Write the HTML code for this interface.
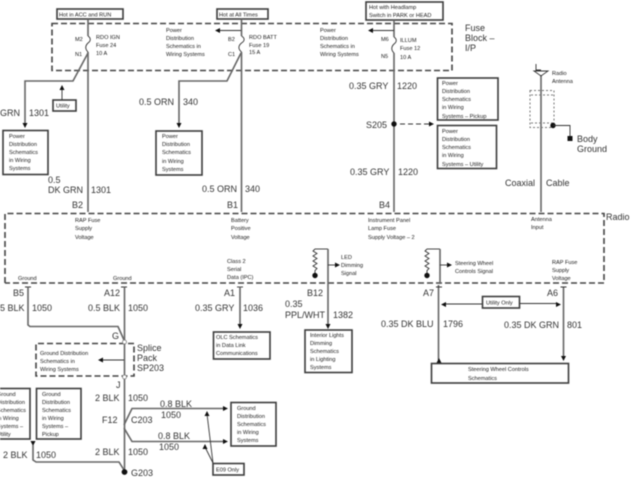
<!DOCTYPE html>
<html>
<head>
<meta charset="utf-8">
<style>
html,body{margin:0;padding:0;background:#fff;}
svg{display:block;filter:blur(0.55px);}
text{font-family:"Liberation Sans",sans-serif;fill:#333;}
.s{font-size:5.6px;fill:#1c1c1c;}
.l{font-size:9px;fill:#333;}
.w{fill:none;stroke:#666;stroke-width:1.6;}
.t{fill:none;stroke:#333;stroke-width:0.9;}
.b{fill:#fff;stroke:#3c3c3c;stroke-width:1.6;}
.d{fill:none;stroke:#444;stroke-width:1.6;stroke-dasharray:6 3;}
.f{fill:none;stroke:#777;stroke-width:1;stroke-dasharray:2 2;}
.k{fill:#111;}
</style>
</head>
<body>
<svg width="640" height="480" viewBox="0 0 640 480" xmlns="http://www.w3.org/2000/svg">
<rect width="640" height="480" fill="#fff"/>

<!-- dashed blocks -->
<rect class="d" x="52" y="23.5" width="400" height="47"/>
<path class="d" d="M5 283V213.5H604V283H5"/>

<!-- top hot boxes -->
<rect class="b" x="57" y="9" width="66" height="10"/>
<text class="s" x="59" y="16.5">Hot in ACC and RUN</text>
<rect class="b" x="217" y="9" width="51" height="10"/>
<text class="s" x="219" y="16.5">Hot at All Times</text>
<rect class="b" x="366" y="2" width="77" height="18"/>
<text class="s" x="369" y="9">Hot with Headlamp</text>
<text class="s" x="369" y="17">Switch in PARK or HEAD</text>

<!-- main wires -->
<path class="w" d="M88 19V36M88 52V212"/>
<path class="t" d="M88 36C91 38 91 41 88 43C85 46 85 49 88 52"/>
<path class="w" d="M241.5 19V36M241.5 52V212"/>
<path class="t" d="M241.5 36C245 38 245 41 241.5 43C238 46 238 49 241.5 52"/>
<path class="w" d="M394 20V37M394 53V212"/>
<path class="t" d="M394 37C397 39 397 42 394 44C391 47 391 50 394 53"/>
<path class="w" d="M541 75V212"/>

<!-- fuse labels -->
<text class="s" x="75" y="41">M2</text><text class="s" x="75" y="56">N1</text>
<text class="s" x="96" y="39">RDO IGN</text><text class="s" x="96" y="47">Fuse 24</text><text class="s" x="96" y="55">10 A</text>
<text class="s" x="228" y="41">B2</text><text class="s" x="228" y="56">C1</text>
<text class="s" x="249" y="39">RDO BATT</text><text class="s" x="249" y="47">Fuse 19</text><text class="s" x="249" y="54">15 A</text>
<text class="s" x="381" y="41">M6</text><text class="s" x="381" y="58">N5</text>
<text class="s" x="400" y="42">ILLUM</text><text class="s" x="400" y="50">Fuse 12</text><text class="s" x="400" y="59">10 A</text>

<text class="s" x="166" y="32">Power</text><text class="s" x="166" y="40">Distribution</text><text class="s" x="166" y="48">Schematics in</text><text class="s" x="166" y="56">Wiring Systems</text>
<path class="t" d="M241 30.5H218"/><path class="k" d="M215 30.5l5-2.5v5z"/>
<text class="s" x="320" y="32">Power</text><text class="s" x="320" y="40">Distribution</text><text class="s" x="320" y="48">Schematics in</text><text class="s" x="320" y="56">Wiring Systems</text>
<path class="t" d="M394 30.5H371"/><path class="k" d="M368 30.5l5-2.5v5z"/>

<text class="l" x="465" y="31">Fuse</text><text class="l" x="465" y="41">Block –</text><text class="l" x="465" y="51">I/P</text>

<!-- left branch -->
<path class="w" d="M88 53L73 81H25V124"/>
<path class="k" d="M25 128l-2.5-5h5z"/>
<text class="l" x="0" y="116">GRN</text><text class="l" x="29" y="116">1301</text>
<rect class="b" x="53" y="100" width="23" height="11"/><text class="s" x="56" y="107.5">Utility</text>
<path class="t" d="M62 100V88"/><path class="k" d="M62 85l-2.5 5h5z"/>
<rect class="b" x="3" y="130.500" width="45" height="44"/>
<text class="s" x="9" y="138">Power</text><text class="s" x="9" y="146">Distribution</text><text class="s" x="9" y="154">Schematics</text><text class="s" x="9" y="162">in Wiring</text><text class="s" x="9" y="170">Systems</text>
<text class="l" x="48" y="183">0.5</text><text class="l" x="48" y="193">DK GRN</text><text class="l" x="91" y="193">1301</text>
<text class="l" x="72" y="208">B2</text>
<text class="s" x="75" y="222">RAP Fuse</text><text class="s" x="75" y="230">Supply</text><text class="s" x="75" y="239">Voltage</text>

<!-- middle branch -->
<path class="w" d="M241 53L227 81H179V124"/>
<path class="k" d="M179 128l-2.500-5h5z"/>
<text class="l" x="139" y="105">0.5 ORN</text><text class="l" x="183" y="105">340</text>
<rect class="b" x="156" y="131" width="46" height="44"/>
<text class="s" x="162" y="138">Power</text><text class="s" x="162" y="146">Distribution</text><text class="s" x="162" y="154">Schematics</text><text class="s" x="162" y="163">in Wiring</text><text class="s" x="162" y="171">Systems</text>
<text class="l" x="202" y="192">0.5 ORN</text><text class="l" x="245" y="192">340</text>
<text class="l" x="227" y="208">B1</text>
<text class="s" x="231" y="222">Battery</text><text class="s" x="231" y="230">Positive</text><text class="s" x="231" y="239">Voltage</text>

<!-- 1220 -->
<text class="l" x="349" y="89">0.35 GRY</text><text class="l" x="397" y="89">1220</text>
<rect class="b" x="437.500" y="78" width="60.500" height="42"/>
<text class="s" x="442" y="85">Power</text><text class="s" x="442" y="93">Distribution</text><text class="s" x="442" y="101">Schematics</text><text class="s" x="442" y="109">in Wiring</text><text class="s" x="442" y="118">Systems – Pickup</text>
<rect class="b" x="437.500" y="125.500" width="59" height="43"/>
<text class="s" x="442" y="133">Power</text><text class="s" x="442" y="141">Distribution</text><text class="s" x="442" y="149">Schematics</text><text class="s" x="442" y="157">in Wiring</text><text class="s" x="442" y="166">Systems – Utility</text>
<text class="l" x="366" y="128">S205</text>
<circle class="k" cx="394" cy="124" r="2.700"/>
<path class="t" d="M400 124H430" stroke-dasharray="5 3"/><path class="k" d="M434 124l-5-2.500v5z"/>
<text class="l" x="350" y="175">0.35 GRY</text><text class="l" x="398" y="175">1220</text>
<text class="l" x="379" y="208">B4</text>
<text class="s" x="368" y="222">Instrument Panel</text><text class="s" x="368" y="230">Lamp Fuse</text><text class="s" x="368" y="239">Supply Voltage – 2</text>

<!-- antenna -->
<path class="t" d="M536 64V70H541M534 71H548L541 76Z"/>
<text class="s" x="552" y="75">Radio</text><text class="s" x="552" y="83">Antenna</text>
<rect class="f" x="530" y="90.500" width="24" height="37"/>
<path class="f" d="M531 95H553M531 123H553"/>
<circle class="k" cx="553" cy="125.500" r="2.700"/>
<path class="t" d="M553 125.500H570V136" stroke-width="1"/>
<rect class="k" x="567.500" y="136" width="5" height="5"/>
<text class="l" x="577" y="142">Body</text><text class="l" x="577" y="152">Ground</text>
<text class="l" x="505" y="186">Coaxial</text><text class="l" x="546" y="186">Cable</text>
<text class="s" x="531" y="221">Antenna</text><text class="s" x="531" y="229">Input</text>
<text class="l" x="606" y="220">Radio</text>

<!-- bottom left -->
<text class="s" x="18" y="280">Ground</text><text class="s" x="113" y="280">Ground</text>
<path class="t" d="M25 287H31M121 287H127"/>
<text class="l" x="13" y="296">B5</text><text class="l" x="104" y="296">A12</text>
<path class="w" d="M28 287V325L30 326.500H118L124 340"/>
<path class="w" d="M124.500 287V470"/>
<text class="l" x="0" y="311">5 BLK</text><text class="l" x="32" y="311">1050</text>
<text class="l" x="88" y="311">0.5 BLK</text><text class="l" x="128" y="311">1050</text>
<text class="l" x="112" y="339">G</text>
<text class="l" x="137" y="351">Splice</text><text class="l" x="137" y="361">Pack</text><text class="l" x="137" y="371">SP203</text>
<path class="d" d="M134 343.500H36V376H134V343.500" stroke-width="1.300"/>
<text class="s" x="40" y="355">Ground Distribution</text><text class="s" x="40" y="363">Schematics in</text><text class="s" x="40" y="371">Wiring Systems</text>
<path class="t" d="M124 360H101"/><path class="k" d="M98 360l5-2.500v5z"/>
<circle cx="124.500" cy="342" r="2" fill="#fff" stroke="#777" stroke-width=".8"/>
<circle cx="124.500" cy="377" r="2" fill="#fff" stroke="#777" stroke-width=".8"/>
<text class="l" x="116" y="388">J</text>

<rect class="b" x="-4" y="388.500" width="34" height="50.500"/>
<text class="s" x="-3" y="396">Ground</text><text class="s" x="-3" y="404">Distribution</text><text class="s" x="-3" y="412">Schematics</text><text class="s" x="-3" y="420">in Wiring</text><text class="s" x="-3" y="428">Systems –</text><text class="s" x="-3" y="436">Utility</text>
<rect class="b" x="36.500" y="388.500" width="44.500" height="50.500"/>
<text class="s" x="42" y="396">Ground</text><text class="s" x="42" y="404">Distribution</text><text class="s" x="42" y="412">Schematics</text><text class="s" x="42" y="420">in Wiring</text><text class="s" x="42" y="428">Systems –</text><text class="s" x="42" y="436">Pickup</text>
<path class="k" d="M33 446l-2.500-5h5z"/>
<path class="w" d="M33 445V460L36 462H119L124 470"/>
<circle class="k" cx="124.500" cy="472" r="2.900"/>
<text class="l" x="131" y="476">G203</text>
<text class="l" x="3" y="458">2 BLK</text><text class="l" x="36" y="458">1050</text>
<text class="l" x="95" y="401">2 BLK</text><text class="l" x="128" y="401">1050</text>
<text class="l" x="102" y="423">F12</text><text class="l" x="131" y="423">C203</text>
<text class="l" x="95" y="455">2 BLK</text><text class="l" x="128" y="455">1050</text>
<path class="w" d="M124 425L132 408.500H224"/>
<path class="w" d="M124 428L132 441.500H224"/>
<path class="k" d="M228 408.500l-5-2.500v5zM228 441.500l-5-2.500v5z"/>
<text class="l" x="160" y="407">0.8 BLK</text><text class="l" x="161" y="418">1050</text>
<text class="l" x="158" y="439">0.8 BLK</text><text class="l" x="159" y="450">1050</text>
<rect class="b" x="231" y="402.500" width="45" height="43.500"/>
<text class="s" x="237" y="410">Ground</text><text class="s" x="237" y="418">Distribution</text><text class="s" x="237" y="426">Schematics</text><text class="s" x="237" y="434">in Wiring</text><text class="s" x="237" y="442">Systems</text>
<rect class="b" x="213" y="463.500" width="31" height="11.500"/><text class="s" x="216" y="471.500">E09 Only</text>
<path class="t" d="M213 463L207 414M213 463L205 447" stroke-width="1"/>
<path class="k" d="M207 411l-2.500 5h5zM205 444l-2.500 5h5z"/>

<!-- A1 -->
<text class="s" x="227" y="263">Class 2</text><text class="s" x="227" y="271">Serial</text><text class="s" x="227" y="279">Data (IPC)</text>
<path class="t" d="M237 287H243"/>
<text class="l" x="224" y="296">A1</text>
<path class="w" d="M240 287V325"/><path class="k" d="M240 329l-2.500-5h5z"/>
<text class="l" x="195" y="311">0.35 GRY</text><text class="l" x="243" y="311">1036</text>
<rect class="b" x="213.500" y="332" width="56.500" height="27"/>
<text class="s" x="216" y="339">OLC Schematics</text><text class="s" x="216" y="347">in Data Link</text><text class="s" x="216" y="355">Communications</text>

<!-- B12 -->
<path class="t" d="M315 249H328" stroke-width="1"/>
<path class="t" d="M315 249l-2 2 4 2.500-4 2.500 4 2.500-4 2.500 4 2.500-4 2.500 4 2.500-2 2V273"/>
<circle class="k" cx="315" cy="275.500" r="2.700"/>
<path class="w" d="M328 249V325"/><path class="k" d="M328 329l-2.500-5h5z"/>
<path class="t" d="M328 265H337"/><path class="k" d="M340 265l-5-2.500v5z"/>
<text class="s" x="341" y="259">LED</text><text class="s" x="341" y="267">Dimming</text><text class="s" x="341" y="275">Signal</text>
<text class="l" x="307" y="296">B12</text>
<text class="l" x="285" y="307">0.35</text><text class="l" x="285" y="318">PPL/WHT</text><text class="l" x="333" y="318">1382</text>
<rect class="b" x="305" y="330" width="47" height="42.500"/>
<text class="s" x="310" y="337">Interior Lights</text><text class="s" x="310" y="345">Dimming</text><text class="s" x="310" y="353">Schematics</text><text class="s" x="310" y="361">in Lighting</text><text class="s" x="310" y="369">Systems</text>

<!-- A7 -->
<path class="t" d="M427 249H440" stroke-width="1"/>
<path class="t" d="M427 249l-2 2 4 2.500-4 2.500 4 2.500-4 2.500 4 2.500-4 2.500 4 2.500-2 2V273"/>
<circle class="k" cx="427" cy="275.500" r="2.700"/>
<path class="w" d="M440 249V284M438.500 285V360"/>
<path class="k" d="M439 358l-2.500 5h5z"/>
<path class="t" d="M440 265H449"/><path class="k" d="M452 265l-5-2.500v5z"/>
<text class="s" x="455" y="265">Steering Wheel</text><text class="s" x="455" y="273">Controls Signal</text>
<text class="l" x="423" y="296">A7</text>
<rect class="b" x="482.500" y="296.500" width="37" height="11.500"/><text class="s" x="486" y="304.500">Utility Only</text>
<path class="t" d="M482 304H444M520 303.500H558"/>
<path class="k" d="M441 304.500l5-2.500v5zM561 304.500l-5-2.500v5z"/>
<text class="l" x="381" y="327">0.35 DK BLU</text><text class="l" x="443" y="327">1796</text>
<text class="s" x="552" y="264">RAP Fuse</text><text class="s" x="552" y="272">Supply</text><text class="s" x="552" y="280">Voltage</text>
<text class="l" x="547" y="296">A6</text>
<path class="w" d="M563.500 287V358"/><path class="k" d="M563.500 361l-2.500-5h5z"/>
<path class="t" d="M560.500 287H566.500M436 287H442"/>
<text class="l" x="504" y="328">0.35 DK GRN</text><text class="l" x="567" y="328">801</text>
<rect class="b" x="431.500" y="363.500" width="137" height="19.500"/>
<text class="s" x="468" y="371">Steering Wheel Controls</text><text class="s" x="468" y="380">Schematics</text>
</svg>
</body>
</html>
